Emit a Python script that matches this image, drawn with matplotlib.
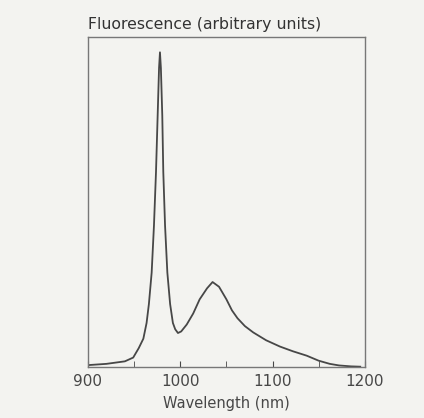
import matplotlib.pyplot as plt

# wavelength (nm) and relative fluorescence
wavelength = [900, 920, 940, 949, 955, 960, 963.5, 966, 969, 971.5, 973.7, 975.5,
              977, 978, 979, 980.5, 981.6, 983.5, 986, 989, 992, 994.5, 997.5, 1001,
              1007, 1014, 1021, 1029, 1035, 1042, 1050, 1056, 1062, 1070, 1079, 1093,
              1108, 1122, 1137, 1150, 1162, 1172, 1185, 1195]
fluorescence = [0.006, 0.01, 0.018, 0.03, 0.06, 0.09, 0.14, 0.2, 0.3, 0.45, 0.62, 0.8,
                0.95, 1.0, 0.95, 0.8, 0.62, 0.45, 0.3, 0.2, 0.14, 0.12, 0.108, 0.113,
                0.135, 0.17, 0.215, 0.25, 0.27, 0.255, 0.215, 0.18, 0.155, 0.13, 0.11,
                0.085, 0.065, 0.05, 0.036, 0.02, 0.01, 0.005, 0.002, 0.001]

xticks = [900, 1000, 1100, 1200]
minor_ticks = [950, 1050, 1150]

bg = '#f3f3f0'
ink = '#474747'

fig = plt.figure(figsize=(4.24, 4.18), dpi=100, facecolor=bg)
ax = fig.add_axes([0.2075, 0.122, 0.653, 0.789], facecolor=bg)

ax.plot(wavelength, fluorescence, color=ink, lw=1.3)

ax.set_xlim(900, 1200)
ax.set_ylim(0, 1.048)
ax.set_xticks(xticks)
ax.set_xticks(minor_ticks, minor=True)
ax.set_yticks([])
ax.tick_params(axis='x', which='both', direction='in', length=4, color=ink,
               labelcolor=ink, labelsize=11, pad=5)
for s in ax.spines.values():
    s.set_color('#777777')
    s.set_linewidth(1.0)

ax.set_title('Fluorescence (arbitrary units)', loc='left', fontsize=11.3,
             color='#333333', pad=6)
ax.set_xlabel('Wavelength (nm)', fontsize=10.5, color=ink, labelpad=5)

fig.savefig('out.png', dpi=100, facecolor=bg)
